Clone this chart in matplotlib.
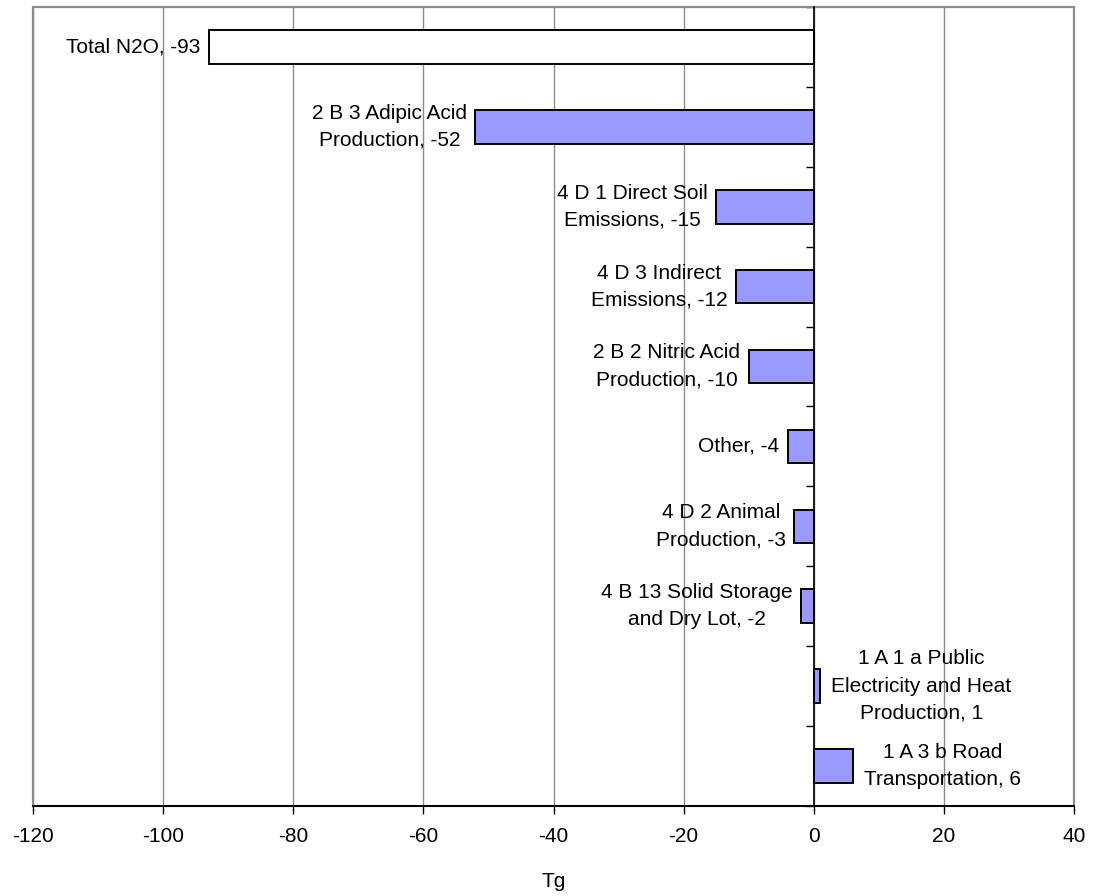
import matplotlib
matplotlib.use("Agg")
import matplotlib.pyplot as plt
from matplotlib.patches import Rectangle

plt.rcParams['font.family'] = ['Liberation Sans', 'DejaVu Sans']

# N2O emission changes by source category (Tg)
labels = [
    "Total N2O",
    "2 B 3 Adipic Acid\nProduction",
    "4 D 1 Direct Soil\nEmissions",
    "4 D 3 Indirect\nEmissions",
    "2 B 2 Nitric Acid\nProduction",
    "Other",
    "4 D 2 Animal\nProduction",
    "4 B 13 Solid Storage\nand Dry Lot",
    "1 A 1 a Public\nElectricity and Heat\nProduction",
    "1 A 3 b Road\nTransportation",
]
values = [-93, -52, -15, -12, -10, -4, -3, -2, 1, 6]
is_total = [True, False, False, False, False, False, False, False, False, False]

x_ticks = [-120, -100, -80, -60, -40, -20, 0, 20, 40]

FS = 15

fig = plt.figure(figsize=(10.93, 8.96), dpi=100)
ax = fig.add_axes([33 / 1093, 90 / 896, 1041 / 1093, 799 / 896])

positions = list(range(len(values)))
colors = ["white" if t else "#9999FF" for t in is_total]
ax.barh(positions, values, height=0.42, color=colors, edgecolor="black",
        linewidth=1.4, zorder=3)

ax.set_xlim(-120, 40)
ax.set_ylim(len(values) - 0.5, -0.5)

# vertical grid lines
ax.set_xticks(x_ticks)
ax.set_xticklabels([str(v) for v in x_ticks], fontsize=FS)
ax.xaxis.grid(True, color="#8c8c8c", linewidth=1.0, zorder=0)
ax.set_axisbelow(True)
ax.tick_params(axis="x", direction="out", length=6, width=1, color="black", pad=9)
ax.set_xlabel("Tg", fontsize=FS, labelpad=19)

# category axis drawn at zero, with ticks at category boundaries
ax.spines["left"].set_position(("data", 0))
ax.spines["left"].set_color("black")
ax.spines["left"].set_linewidth(1.2)
ax.spines["left"].set_zorder(4)
ax.set_yticks([p - 0.5 for p in positions] + [len(values) - 0.5])
ax.set_yticklabels([])
ax.tick_params(axis="y", direction="out", length=6, width=1, color="black")

ax.spines["bottom"].set_color("black")
ax.spines["bottom"].set_linewidth(1.4)
for side in ("top", "right"):
    ax.spines[side].set_color("#8c8c8c")
    ax.spines[side].set_linewidth(1.2)

# gray plot-area frame on the left edge
ax.add_patch(Rectangle((0, 0), 1, 1, transform=ax.transAxes, fill=False,
                       edgecolor="#8c8c8c", linewidth=1.6, zorder=1,
                       clip_on=False))

# data labels: "category, value"
for p, (lab, v) in enumerate(zip(labels, values)):
    text = f"{lab}, {v}"
    if v < 0:
        ax.annotate(text, xy=(v, p), xytext=(-6, 0), textcoords="offset points",
                    ha="right", va="center", multialignment="center",
                    fontsize=FS, linespacing=1.55, zorder=5)
    else:
        ax.annotate(text, xy=(v, p), xytext=(8, 0), textcoords="offset points",
                    ha="left", va="center", multialignment="center",
                    fontsize=FS, linespacing=1.55, zorder=5)

fig.savefig("out.png", dpi=100)
